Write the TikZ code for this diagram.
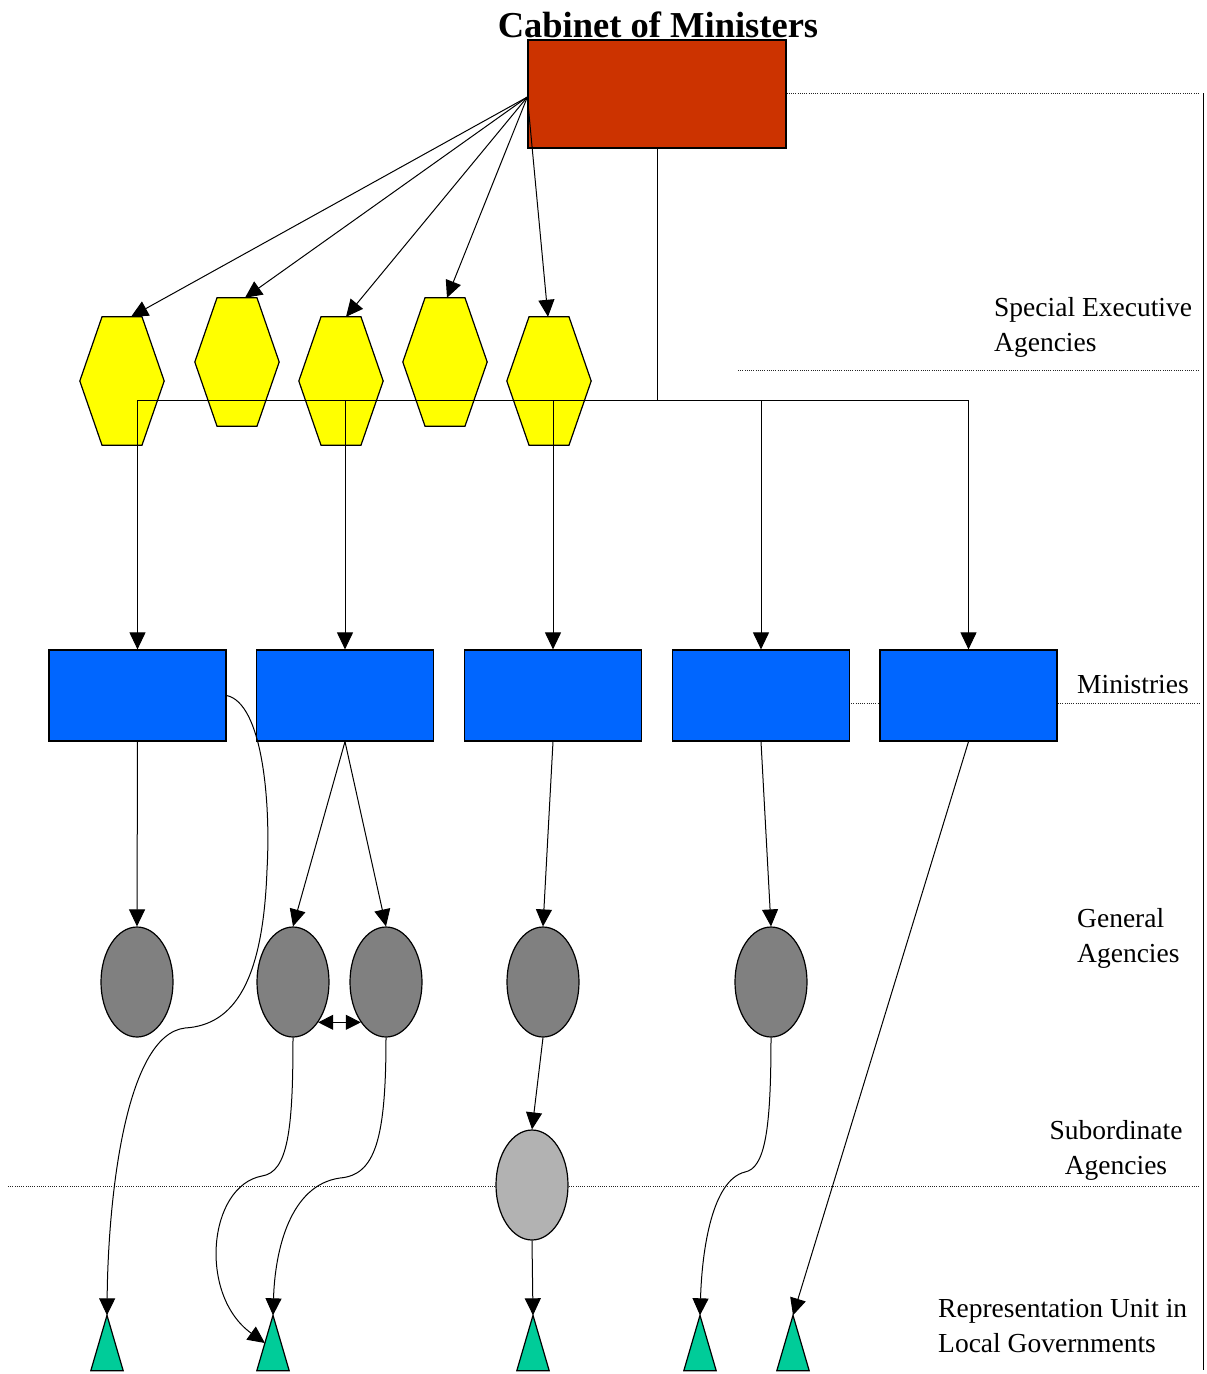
\documentclass[tikz,border=0pt]{standalone}
\usepackage{fontspec}
\setmainfont{Liberation Serif}
\usetikzlibrary{arrows.meta,shapes.geometric,calc}
\definecolor{cabred}{HTML}{CC3300}
\definecolor{hexyellow}{HTML}{FFFF00}
\definecolor{minblue}{HTML}{0066FF}
\definecolor{gengray}{HTML}{808080}
\definecolor{subgray}{HTML}{B2B2B2}
\definecolor{repteal}{HTML}{00CC99}
\begin{document}
\begin{tikzpicture}[x=1pt,y=-1pt,
  box/.style={draw=black,line width=1.2pt,inner sep=0pt},
  ghost/.style={inner sep=0pt,draw=none},
  arr/.style={line width=1pt,-{Triangle[length=17pt,width=16pt]}},
  darr/.style={line width=1pt,{Triangle[length=15pt,width=15pt]}-{Triangle[length=15pt,width=15pt]}},
  conn/.style={line width=1pt},
  dots/.style={line width=0.9pt,dash pattern=on 1pt off 1.2pt,black!85},
  hexshape/.style={draw=black,line width=1.2pt,fill=hexyellow},
  trishape/.style={draw=black,line width=1.2pt,fill=repteal},
  lbl/.style={font=\fontsize{27.5}{35}\selectfont,inner sep=0pt,align=left,anchor=north west},
  ministry/.style={box,fill=minblue,minimum width=177pt,minimum height=91pt},
  general/.style={box,ellipse,fill=gengray,minimum width=72pt,minimum height=110pt},
  subord/.style={box,ellipse,fill=subgray,minimum width=72pt,minimum height=110pt}]
\useasboundingbox (0,0) rectangle (1207,1374);

% title
\node[font=\fontsize{36.5}{40}\selectfont\bfseries,anchor=base,inner sep=0pt] (title) at (658,37) {Cabinet of Ministers};

% cabinet box
\node[box,fill=cabred,minimum width=258pt,minimum height=108pt] (R) at (657,94) {};

% right frame and dotted separators
\coordinate (frameTop) at (1203,93);
\coordinate (frameBot) at (1203,1370);
\draw[conn] (frameTop) -- (frameBot);
\draw[dots] (R.east |- frameTop) -- (1200,93);
\draw[dots] (738,370) -- (1200,370);
\draw[dots] (849,703) -- (1200,703);
\draw[dots] (8,1186) -- (1200,1186);

% hexagons (special executive agencies)
\node[ghost,minimum width=84pt,minimum height=128pt] (H1) at (122,381) {};
\node[ghost,minimum width=84pt,minimum height=128pt] (H2) at (237,362) {};
\node[ghost,minimum width=84pt,minimum height=128pt] (H3) at (341,381) {};
\node[ghost,minimum width=84pt,minimum height=128pt] (H4) at (445,362) {};
\node[ghost,minimum width=84pt,minimum height=128pt] (H5) at (549,381) {};
\foreach \h in {H1,H2,H3,H4,H5}{
  \draw[hexshape] ([xshift=-20pt]\h.north) -- ([xshift=20pt]\h.north) -- (\h.east)
    -- ([xshift=20pt]\h.south) -- ([xshift=-20pt]\h.south) -- (\h.west) -- cycle;
}

% ministries
\node[ministry] (M1) at (137.5,695.5) {};
\node[ministry] (M2) at (345,695.5) {};
\node[ministry] (M3) at (553,695.5) {};
\node[ministry] (M4) at (761,695.5) {};
\node[ministry] (M5) at (968.5,695.5) {};

% tree from cabinet to ministries
\coordinate (J) at (657,400);
\draw[conn] (R.south) -- (J);
\draw[conn] (M1.north |- J) -- (M5.north |- J);
\foreach \m in {M1,M2,M3,M4,M5}{
  \draw[arr] (\m.north |- J) -- (\m.north);
}

% cabinet to special executive agencies
\coordinate (RL) at ([yshift=-3pt]R.west);
\draw[arr] (RL) -- ([xshift=9pt]H1.north);
\draw[arr] (RL) -- ([xshift=8pt]H2.north);
\draw[arr] (RL) -- ([xshift=5pt]H3.north);
\draw[arr] (RL) -- ([xshift=2pt]H4.north);
\draw[arr] (RL) -- ([xshift=-1pt]H5.north);

% general agencies
\node[general] (E1) at (137,982) {};
\node[general] (E2) at (293,982) {};
\node[general] (E3) at (386,982) {};
\node[general] (E4) at (543,982) {};
\node[general] (E5) at (771,982) {};

% subordinate agency
\node[subord] (S) at (532,1185) {};

% representation units
\node[ghost,minimum width=32pt,minimum height=55pt] (T1) at (107,1343) {};
\node[ghost,minimum width=32pt,minimum height=55pt] (T2) at (273,1343) {};
\node[ghost,minimum width=32pt,minimum height=55pt] (T3) at (533,1343) {};
\node[ghost,minimum width=32pt,minimum height=55pt] (T4) at (700,1343) {};
\node[ghost,minimum width=32pt,minimum height=55pt] (T5) at (793,1343) {};
\foreach \t in {T1,T2,T3,T4,T5}{
  \draw[trishape] (\t.north) -- (\t.south east) -- (\t.south west) -- cycle;
}

% ministries to general agencies
\draw[arr] (M1.south) -- (E1.north);
\draw[arr] (M2.south) -- (E2.north);
\draw[arr] (M2.south) -- (E3.north);
\draw[arr] (M3.south) -- (E4.north);
\draw[arr] (M4.south) -- (E5.north);
\draw[arr] (M5.south) -- (T5.north);
\draw[darr] (E2.-58) -- (E3.-122);
\draw[arr] (E4.south) -- (S.north);
\draw[arr] (S.south) -- (T3.north);

% curved connectors
\draw[arr] (M1.east) .. controls (262,703) and (271,800) .. (267,870)
  .. controls (263,980) and (235,1025) .. (185,1028)
  .. controls (125,1035) and (108,1200) .. (T1.north);
\draw[arr] (E2.south) .. controls (293,1130) and (288,1172) .. (262,1176)
  .. controls (208,1186) and (198,1295) .. ($(T2.north)!0.5!(T2.south west)$);
\draw[arr] (E3.south) .. controls (386,1140) and (375,1175) .. (340,1178)
  .. controls (290,1185) and (275,1250) .. (T2.north);
\draw[arr] (E5.south) .. controls (771,1130) and (765,1168) .. (745,1172)
  .. controls (712,1180) and (702,1250) .. (T4.north);

% labels
\node[lbl] (lSEA) at (994,297) {Special Executive\\Agencies};
\node[lbl,anchor=west] (lMin) at (1077,685) {Ministries};
\node[lbl] (lGen) at (1077,908) {General\\Agencies};
\node[lbl,align=center,anchor=north] (lSub) at (1116,1120) {Subordinate\\Agencies};
\node[lbl] (lRep) at (938,1299) {Representation Unit in\\Local Governments};
\end{tikzpicture}
\end{document}
